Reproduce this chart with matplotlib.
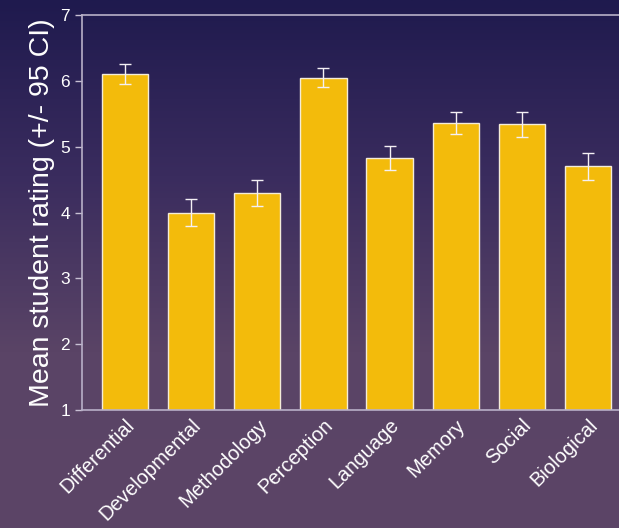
import numpy as np
import matplotlib.pyplot as plt
from matplotlib.colors import LinearSegmentedColormap
from matplotlib.transforms import ScaledTranslation

plt.rcParams['font.family'] = ['Liberation Sans', 'DejaVu Sans']

categories = ['Differential', 'Developmental', 'Methodology', 'Perception',
              'Language', 'Memory', 'Social', 'Biological']
means = [6.11, 4.00, 4.30, 6.05, 4.83, 5.36, 5.34, 4.70]
ci = [0.15, 0.21, 0.20, 0.15, 0.18, 0.17, 0.19, 0.21]

fig = plt.figure(figsize=(6.19, 5.28), dpi=100)

# background gradient
bg = fig.add_axes([0, 0, 1, 1], zorder=0)
cmap = LinearSegmentedColormap.from_list('bg', ['#1f1a4e', '#3a2c5e', '#5a4466', '#5c4567'])
bg.imshow(np.linspace(0, 1, 256).reshape(-1, 1), aspect='auto', cmap=cmap,
          extent=[0, 1, 0, 1])
bg.axis('off')

ax = fig.add_axes([0.1325, 0.2235, 0.8675, 0.748], zorder=1)
ax.patch.set_alpha(0)
x = np.arange(len(categories))
ax.bar(x, means, width=0.7, color='#f3bb0b', edgecolor='#f4ecd8', linewidth=1)
ax.errorbar(x, means, yerr=ci, fmt='none', ecolor='#f4f0f4', elinewidth=1,
            capsize=4.3, capthick=1)

ax.set_ylim(1, 7)
ax.set_xlim(-0.65, 7.47)
ax.set_yticks(range(1, 8))
ax.set_xticks(x)
ax.set_xticklabels(categories, rotation=45, ha='right', rotation_mode='anchor',
                   color='white', fontsize=14.5)
# nudge the rotated labels a little to the left
shift = ScaledTranslation(-4 / 72, 0, fig.dpi_scale_trans)
for lbl in ax.get_xticklabels():
    lbl.set_transform(lbl.get_transform() + shift)
ax.tick_params(axis='y', colors='#c8c0d4', labelcolor='white', labelsize=12.5,
               length=5, width=1)
ax.tick_params(axis='x', length=0, pad=4)
ax.set_ylabel('Mean student rating (+/- 95 CI)', color='white', fontsize=20.5,
              labelpad=4)

for s in ['left', 'top', 'bottom']:
    ax.spines[s].set_color('#b8b0c8')
    ax.spines[s].set_linewidth(1.2)
ax.spines['right'].set_visible(False)

fig.savefig('out.png', dpi=100)
